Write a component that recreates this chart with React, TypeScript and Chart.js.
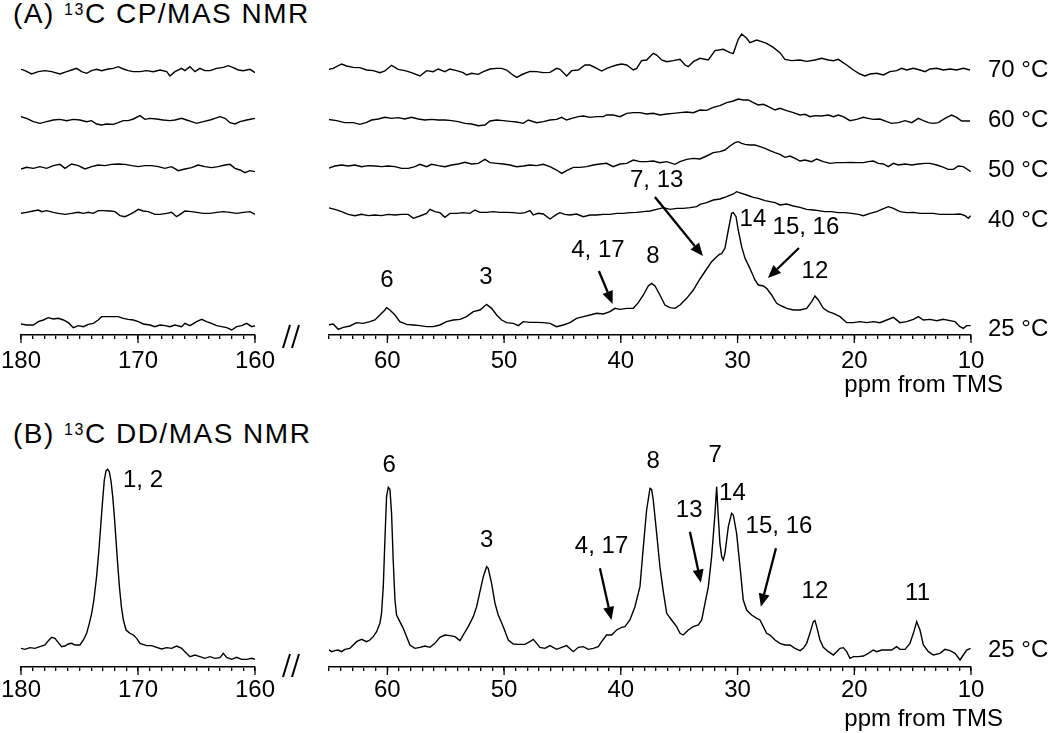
import React, { useEffect, useRef } from 'react';
import { Chart, registerables } from 'chart.js';

Chart.register(...registerables);

type Pt = [number, number];

// ---------- Panel A: 13C CP/MAS NMR, 65-10 ppm (ppm, intensity) ----------
const cp70Right: Pt[] = [[65.07,2],[64.64,5],[63.92,18],[63.5,12],[62.92,8],[62.35,7],[61.78,0],[61.21,-2],[60.64,-8],[60.21,-3],[59.64,14],[59.07,2],[58.5,-2],[57.93,-8],[57.21,-18],[56.64,-2],[56.07,-5],[55.64,3],[55.07,-5],[54.64,3],[54.07,-2],[53.5,-8],[53.21,-15],[52.78,-10],[52.21,-13],[51.78,-5],[51.21,3],[50.64,5],[50.21,5],[49.78,0],[49.36,-12],[48.93,-22],[48.36,-12],[47.78,-4],[47.21,-5],[46.64,-8],[46.07,-7],[45.5,5],[45.21,2],[44.64,-18],[44.21,-2],[43.64,0],[43.07,15],[42.64,15],[42.07,5],[41.64,-3],[41.2,5],[40.79,10],[40.36,15],[39.93,18],[39.5,15],[38.93,0],[38.64,5],[38.22,28],[37.79,30],[37.22,50],[36.93,45],[36.5,30],[36.07,25],[35.5,28],[34.93,32],[34.5,15],[34.22,10],[33.79,25],[33.22,35],[32.51,30],[31.93,58],[31.22,62],[30.65,52],[30.36,50],[29.94,92],[29.65,108],[29.22,95],[28.94,82],[28.36,90],[27.94,85],[27.51,80],[26.94,68],[26.37,52],[25.94,32],[25.37,28],[24.65,30],[24.08,26],[23.37,30],[22.8,35],[22.22,30],[21.79,28],[21.37,32],[20.65,15],[20.08,0],[19.51,-12],[19.08,-18],[18.65,-12],[18.08,-10],[17.51,-15],[16.94,-5],[16.37,-2],[15.94,5],[15.51,0],[14.94,5],[14.37,0],[13.94,-5],[13.51,3],[12.94,5],[12.37,0],[11.8,3],[11.23,0],[10.66,5],[10.08,0]];

const cp60Right: Pt[] = [[65.07,5],[64.35,1],[63.64,-5],[62.92,-5],[62.35,-10],[61.78,-4],[61.35,3],[60.78,6],[60.21,11],[59.64,8],[59.07,10],[58.5,6],[57.93,11],[57.35,6],[56.78,3],[56.21,5],[55.64,3],[55.07,3],[54.5,1],[53.93,-2],[53.35,-7],[52.78,-9],[52.21,-14],[51.64,-12],[51.21,0],[50.64,3],[50.07,1],[49.5,-1],[48.93,-3],[48.36,-7],[47.93,3],[47.21,-5],[46.64,-2],[46.07,3],[45.5,5],[45.07,11],[44.64,3],[44.21,8],[43.64,13],[43.21,15],[42.64,11],[42.07,13],[41.5,13],[41.22,18],[40.65,18],[40.07,13],[39.5,23],[38.93,25],[38.36,25],[37.79,21],[37.22,23],[36.65,18],[36.07,21],[35.5,23],[34.93,25],[34.36,27],[33.79,25],[33.22,33],[32.65,32],[32.08,41],[31.51,46],[30.93,55],[30.36,60],[29.94,66],[29.51,63],[29.08,63],[28.65,55],[28.22,48],[27.79,50],[27.22,41],[26.79,33],[26.37,38],[25.79,31],[25.22,25],[24.65,18],[24.22,20],[23.79,13],[23.37,16],[22.8,15],[22.22,18],[21.79,13],[21.37,18],[20.94,13],[20.37,1],[19.8,5],[19.22,11],[18.8,8],[18.37,5],[17.8,6],[17.22,-2],[16.8,-7],[16.22,-5],[15.65,1],[15.08,-5],[14.51,8],[14.08,1],[13.65,-5],[13.23,-7],[12.8,-5],[12.23,8],[11.66,18],[11.23,11],[10.8,0],[10.08,0]];

const cp50Right: Pt[] = [[65.07,5],[64.5,12],[63.92,15],[63.35,12],[62.78,15],[62.21,10],[61.64,13],[61.07,12],[60.5,10],[59.92,12],[59.35,10],[58.78,5],[58.21,5],[57.64,10],[57.21,17],[56.64,10],[56.21,17],[55.64,13],[55.07,10],[54.5,15],[53.93,18],[53.35,23],[52.78,18],[52.21,20],[51.64,32],[51.21,22],[50.64,20],[50.07,18],[49.5,15],[48.93,10],[48.36,12],[47.79,15],[47.21,13],[46.64,17],[46.07,10],[45.5,0],[45.07,-10],[44.64,-2],[44.07,8],[43.5,8],[42.93,10],[42.36,15],[41.79,18],[41.22,20],[40.65,10],[40.07,18],[39.5,20],[38.93,30],[38.36,25],[37.79,25],[37.22,27],[36.65,22],[36.07,25],[35.36,17],[34.93,25],[34.36,32],[33.79,35],[33.22,33],[32.65,42],[32.08,52],[31.51,55],[31.08,60],[30.65,72],[30.22,82],[29.94,85],[29.65,80],[29.36,77],[28.94,75],[28.51,75],[28.08,70],[27.65,65],[27.22,58],[26.79,52],[26.37,47],[25.94,38],[25.51,42],[25.08,35],[24.65,27],[24.22,30],[23.65,25],[23.22,33],[22.65,25],[22.08,20],[21.51,22],[20.94,22],[20.37,23],[19.8,22],[19.22,22],[18.8,25],[18.37,27],[17.94,20],[17.51,18],[17.08,10],[16.65,20],[16.22,15],[15.65,18],[15.08,15],[14.51,18],[13.94,20],[13.51,20],[12.94,15],[12.51,10],[11.94,2],[11.51,2],[11.08,12],[10.66,10],[10.23,0],[10.03,-5]];

const cp40Right: Pt[] = [[65.07,22],[64.5,17],[63.92,10],[63.35,2],[62.78,-2],[62.21,2],[61.64,-2],[61.07,0],[60.5,-2],[59.92,2],[59.35,0],[58.78,2],[58.21,2],[57.78,-10],[57.21,-3],[56.64,5],[56.35,17],[55.93,10],[55.5,7],[55.07,-7],[54.64,5],[54.07,5],[53.5,7],[52.93,5],[52.5,15],[52.07,8],[51.5,8],[50.93,10],[50.36,8],[49.78,8],[49.21,7],[48.64,5],[48.21,7],[47.79,13],[47.5,0],[47.07,5],[46.64,3],[46.07,-12],[45.5,2],[45.21,7],[44.79,2],[44.36,0],[43.79,3],[43.21,-5],[42.64,0],[42.07,0],[41.5,2],[40.93,2],[40.36,5],[39.79,5],[39.22,7],[38.65,8],[38.07,10],[37.5,12],[36.93,17],[36.36,22],[35.79,17],[35.22,20],[34.65,20],[34.07,22],[33.5,25],[33.22,32],[32.65,37],[32.08,45],[31.51,48],[30.93,55],[30.36,63],[30.08,70],[29.65,65],[29.22,60],[28.65,53],[28.22,50],[27.65,43],[27.22,40],[26.79,37],[26.37,30],[25.79,33],[25.22,27],[24.65,23],[24.08,17],[23.51,15],[23.08,13],[22.51,10],[21.94,10],[21.37,7],[20.8,7],[20.22,5],[19.65,2],[19.22,-2],[18.65,5],[18.08,10],[17.65,17],[17.08,25],[16.65,20],[16.08,10],[15.51,7],[14.94,8],[14.37,5],[13.8,5],[13.23,5],[12.66,2],[12.08,2],[11.51,2],[10.94,3],[10.51,-2],[10.23,-10],[10.03,-2]];

const cp25Right: Pt[] = [[65.07,2],[64.64,5],[64.21,-11],[63.78,-5],[63.21,-1],[62.64,9],[62.07,7],[61.5,12],[61.07,17],[60.64,32],[60.21,47],[60.07,54],[59.78,47],[59.35,32],[58.93,12],[58.35,4],[57.78,2],[57.21,0],[56.64,-3],[56.07,-3],[55.5,2],[54.93,12],[54.35,17],[53.78,19],[53.21,27],[52.64,42],[52.07,47],[51.5,64],[51.07,52],[50.64,32],[50.21,17],[49.78,9],[49.21,7],[48.78,0],[48.36,12],[47.79,10],[47.21,10],[46.64,9],[46.07,7],[45.5,-3],[44.93,2],[44.36,9],[43.79,22],[43.21,27],[42.64,32],[42.07,37],[41.5,35],[40.93,42],[40.5,52],[40.07,49],[39.5,52],[38.93,52],[38.5,69],[38.07,92],[37.65,119],[37.36,127],[37.07,119],[36.65,92],[36.22,62],[35.79,54],[35.36,52],[34.93,62],[34.36,82],[33.79,107],[33.22,140],[32.65,170],[32.22,192],[31.79,207],[31.5,215],[31.36,216],[31.08,232],[30.79,287],[30.51,337],[30.36,339],[30.13,327],[29.94,287],[29.65,237],[29.36,202],[28.94,172],[28.51,137],[28.22,122],[27.79,119],[27.51,112],[27.08,92],[26.65,67],[26.22,59],[25.79,52],[25.22,47],[24.65,47],[24.08,52],[23.65,72],[23.37,89],[23.08,77],[22.65,52],[22.22,42],[21.79,37],[21.22,27],[20.65,9],[20.08,9],[19.51,12],[18.94,9],[18.37,12],[17.8,9],[17.22,17],[16.65,25],[16.08,9],[15.51,12],[14.94,19],[14.51,27],[14.08,17],[13.51,19],[12.94,15],[12.37,19],[11.8,15],[11.37,12],[10.94,-3],[10.66,-8],[10.37,0],[10.03,0]];

// ---------- Panel A: 180-160 ppm ----------
const cp70Left: Pt[] = [[180,2],[179.66,-2],[179.09,-12],[178.52,-5],[177.95,-2],[177.38,-5],[176.67,-12],[176.1,-5],[175.67,0],[175.25,5],[174.82,-5],[174.39,-10],[173.97,-2],[173.54,2],[173.11,-2],[172.54,3],[172.11,5],[171.69,10],[171.26,3],[170.83,-2],[170.4,-5],[169.83,-5],[169.26,-2],[168.69,-5],[168.12,0],[167.55,-5],[167.27,-18],[166.84,-5],[166.27,5],[165.99,-2],[165.56,10],[165.13,-5],[164.71,5],[164.28,-2],[163.85,-2],[163.28,5],[162.71,8],[162.28,13],[161.86,7],[161.43,0],[161,-2],[160.43,2],[160,-8]];

const cp60Left: Pt[] = [[180,13],[179.52,8],[178.95,-2],[178.38,-7],[177.81,-2],[177.24,3],[176.67,5],[176.1,1],[175.53,5],[174.96,3],[174.39,-2],[173.97,1],[173.54,-9],[173.11,-12],[172.68,-9],[172.11,-10],[171.69,-5],[171.26,1],[170.83,1],[170.4,6],[169.83,16],[169.41,5],[168.98,8],[168.41,6],[167.84,3],[167.27,1],[166.84,3],[166.27,8],[165.85,3],[165.42,-2],[164.99,-7],[164.42,-2],[163.85,3],[163.42,8],[162.99,13],[162.56,8],[162.14,-5],[161.71,-9],[161.28,-2],[160.71,3],[160.28,6],[160,8]];

const cp50Left: Pt[] = [[180,3],[179.52,8],[178.95,5],[178.38,10],[177.81,5],[177.24,13],[176.67,17],[176.24,5],[175.67,18],[175.1,13],[174.53,3],[173.97,10],[173.4,15],[172.83,13],[172.25,17],[171.69,18],[171.12,17],[170.55,13],[169.97,10],[169.41,13],[168.84,13],[168.27,10],[167.7,5],[167.13,10],[166.56,-2],[165.99,3],[165.42,7],[164.85,15],[164.28,10],[163.71,7],[163.14,10],[162.56,15],[162.14,17],[161.71,5],[161.28,0],[160.86,-8],[160.43,-2],[160,-5]];

const cp40Left: Pt[] = [[180,5],[179.52,8],[178.95,12],[178.52,15],[178.23,10],[177.81,13],[177.24,8],[176.81,5],[176.24,2],[175.67,5],[175.1,8],[174.67,5],[174.25,8],[173.82,5],[173.4,13],[172.97,13],[172.4,12],[171.97,10],[171.54,-2],[171.12,-5],[170.69,2],[170.26,10],[169.97,17],[169.55,12],[169.12,10],[168.55,2],[168.12,2],[167.55,5],[167.13,8],[166.7,-5],[166.27,5],[165.99,12],[165.42,10],[164.99,8],[164.42,5],[163.85,5],[163.28,8],[162.71,10],[162.14,8],[161.57,5],[161,8],[160.43,10],[160,2]];

const cp25Left: Pt[] = [[180,5],[179.52,2],[178.95,2],[178.52,12],[178.09,17],[177.66,24],[177.24,20],[176.81,22],[176.38,17],[175.95,9],[175.53,-6],[175.1,0],[174.67,-3],[174.25,4],[173.82,7],[173.4,17],[173.11,27],[172.68,27],[172.11,27],[171.69,27],[171.26,22],[170.83,19],[170.4,17],[169.97,12],[169.55,5],[168.98,2],[168.55,-3],[168.12,2],[167.7,0],[167.27,-3],[166.84,2],[166.27,-3],[165.99,7],[165.56,0],[164.99,12],[164.56,19],[164.14,12],[163.71,7],[163.28,0],[162.85,-3],[162.42,-6],[161.99,-13],[161.57,-3],[161.14,0],[160.71,7],[160.28,-3],[160,0]];

// ---------- Panel B: 13C DD/MAS NMR (25 °C) ----------
const ddLeft: Pt[] = [[180,5],[179.66,2],[179.23,7],[178.81,5],[178.38,10],[177.95,15],[177.66,28],[177.38,38],[177.1,35],[176.81,22],[176.53,10],[176.24,12],[175.96,18],[175.67,20],[175.39,15],[174.96,15],[174.67,30],[174.39,50],[174.16,80],[173.96,110],[173.77,150],[173.54,220],[173.34,300],[173.17,380],[173.02,450],[172.88,510],[172.73,538],[172.59,542],[172.45,535],[172.3,505],[172.16,460],[172.02,400],[171.88,330],[171.74,260],[171.59,190],[171.42,130],[171.25,90],[171.02,60],[170.68,50],[170.4,45],[170.11,35],[169.83,20],[169.26,13],[168.84,13],[168.41,8],[167.98,3],[167.55,7],[167.13,5],[166.7,12],[166.27,5],[165.99,-5],[165.56,-20],[165.13,-15],[164.71,-20],[164.28,-25],[163.85,-20],[163.42,-25],[162.99,-23],[162.71,-10],[162.42,-22],[161.99,-28],[161.57,-22],[161.14,-28],[160.71,-28],[160.28,-25],[160,-28]];

const ddRight: Pt[] = [[65.07,2],[64.78,-5],[64.5,-2],[64.21,0],[63.92,-5],[63.64,2],[63.21,5],[62.92,15],[62.64,25],[62.21,32],[61.78,25],[61.5,30],[61.21,40],[60.92,55],[60.64,80],[60.5,110],[60.35,190],[60.21,330],[60.07,460],[59.92,488],[59.78,482],[59.64,410],[59.5,270],[59.35,150],[59.21,105],[58.93,85],[58.64,65],[58.35,40],[58.07,15],[57.64,5],[57.21,8],[56.78,12],[56.35,8],[55.93,20],[55.5,38],[55.07,45],[54.64,43],[54.21,40],[53.78,28],[53.5,45],[53.07,70],[52.64,100],[52.35,130],[52.07,175],[51.78,220],[51.5,250],[51.36,245],[51.07,200],[50.78,140],[50.5,105],[50.07,70],[49.64,30],[49.21,18],[48.78,17],[48.21,17],[47.79,25],[47.5,32],[47.21,20],[46.93,8],[46.5,5],[46.07,13],[45.5,2],[45.07,8],[44.64,13],[44.07,-5],[43.64,8],[43.21,10],[42.79,2],[42.36,5],[41.93,10],[41.64,25],[41.22,45],[40.79,45],[40.36,60],[39.93,68],[39.65,70],[39.22,90],[38.79,130],[38.36,190],[38.07,310],[37.79,420],[37.5,485],[37.36,482],[37.22,450],[36.93,350],[36.65,250],[36.36,175],[36.07,110],[35.65,90],[35.22,70],[34.93,50],[34.65,45],[34.22,60],[33.79,70],[33.36,75],[33.07,90],[32.79,140],[32.5,190],[32.22,280],[31.93,410],[31.79,490],[31.65,400],[31.51,320],[31.36,280],[31.22,270],[31.08,290],[30.79,370],[30.51,410],[30.36,405],[30.08,350],[29.79,250],[29.51,150],[29.22,120],[28.79,105],[28.36,95],[28.08,90],[27.79,70],[27.51,50],[27.22,45],[26.79,30],[26.37,20],[25.94,15],[25.51,15],[25.08,5],[24.65,-2],[24.37,5],[24.08,20],[23.8,50],[23.51,85],[23.37,88],[23.22,70],[22.94,30],[22.65,8],[22.22,-5],[21.79,-15],[21.51,-5],[21.22,5],[20.94,7],[20.65,-5],[20.37,-25],[20.08,-20],[19.65,-20],[19.22,-18],[18.8,-10],[18.37,0],[18.08,-5],[17.65,0],[17.22,0],[16.8,0],[16.37,10],[16.08,2],[15.65,2],[15.23,20],[14.94,50],[14.65,85],[14.37,60],[14.08,15],[13.65,-5],[13.23,-15],[12.66,-10],[12.23,2],[11.8,-2],[11.37,-10],[10.94,-30],[10.66,-15],[10.37,0],[10.03,5]];

// temperatures (stack order bottom -> top)
const cpTemps = ['25 °C', '40 °C', '50 °C', '60 °C', '70 °C'];
const ddTemps = ['25 °C'];

// axis tick label values
const leftAxisLabels = [180, 170, 160];
const rightAxisLabels = [60, 50, 40, 30, 20, 10];

// peak assignments: [text, ppm, height]
const cpPeakLabels: [string, number, number][] = [
  ['6', 60.04, 165], ['3', 51.56, 173], ['4, 17', 41.96, 255], ['8', 37.25, 235],
  ['7, 13', 36.93, 465], ['14', 28.68, 348], ['15, 16', 24.14, 322], ['12', 23.37, 190],
];
const ddLeftPeakLabels: [string, number, number][] = [['1, 2', 169.57, 561]];
const ddPeakLabels: [string, number, number][] = [
  ['6', 59.85, 606], ['3', 51.5, 381], ['4, 17', 41.65, 361], ['8', 37.22, 618],
  ['13', 34.14, 471], ['7', 31.91, 636], ['14', 30.44, 521], ['15, 16', 26.45, 421],
  ['12', 23.37, 226], ['11', 14.58, 221],
];
// arrows: [fromPpm, fromHeight, toPpm, toHeight]
const cpArrows: [number, number, number, number][] = [
  [41.88, 192, 40.7, 93], [37.08, 414, 32.96, 237], [24.74, 261, 27.4, 171],
];
const ddArrows: [number, number, number, number][] = [
  [41.79, 296, 40.8, 141], [34.08, 406, 33.14, 253], [26.71, 356, 28.0, 181],
];

const FONT = '"Liberation Sans", Arial, Helvetica, sans-serif';

interface Spec {
  left: number; top: number; w: number; h: number;
  pad: { left: number; right: number; top: number; bottom: number };
  xMin: number; xMax: number; yMax: number;
  traces: Pt[][]; offsets: number[];
  majors: number[]; tickPad: number;
  labels: [string, number, number][];
  arrows: [number, number, number, number][];
  temps: string[]; tempY: number[];
  unitDy: number | null;
  brk: { t: number; b: number } | null;
}

const cpOffsets = [28, 360, 495, 642, 795];
const ddOffsets = [51];

const specs: Spec[] = [
  {
    left: -20, top: 0, w: 330, h: 400, pad: { left: 41, right: 55, top: 20, bottom: 25 },
    xMin: 160, xMax: 180, yMax: 945,
    traces: [cp25Left, cp40Left, cp50Left, cp60Left, cp70Left], offsets: cpOffsets,
    majors: leftAxisLabels, tickPad: 8, labels: [], arrows: [], temps: [], tempY: [],
    unitDy: null, brk: { t: -10, b: 13 },
  },
  {
    left: 300, top: 0, w: 750, h: 400, pad: { left: 29, right: 79, top: 20, bottom: 25 },
    xMin: 10, xMax: 65, yMax: 945,
    traces: [cp25Right, cp40Right, cp50Right, cp60Right, cp70Right], offsets: cpOffsets,
    majors: rightAxisLabels, tickPad: 8, labels: cpPeakLabels, arrows: cpArrows,
    temps: cpTemps, tempY: [18, 345, 495, 645, 795], unitDy: 50, brk: null,
  },
  {
    left: -20, top: 400, w: 330, h: 333, pad: { left: 41, right: 55, top: 55, bottom: 26 },
    xMin: 160, xMax: 180, yMax: 636,
    traces: [ddLeft], offsets: ddOffsets,
    majors: leftAxisLabels, tickPad: 5, labels: ddLeftPeakLabels, arrows: [], temps: [], tempY: [],
    unitDy: null, brk: { t: -13, b: 10 },
  },
  {
    left: 300, top: 400, w: 750, h: 333, pad: { left: 29, right: 79, top: 55, bottom: 26 },
    xMin: 10, xMax: 65, yMax: 636,
    traces: [ddRight], offsets: ddOffsets,
    majors: rightAxisLabels, tickPad: 5, labels: ddPeakLabels, arrows: ddArrows,
    temps: ddTemps, tempY: [51], unitDy: 52, brk: null,
  },
];

function drawArrow(ctx: CanvasRenderingContext2D, x1: number, y1: number, x2: number, y2: number) {
  const a = Math.atan2(y2 - y1, x2 - x1);
  const hl = 13, hw = 5.5;
  const bx = x2 - hl * Math.cos(a), by = y2 - hl * Math.sin(a);
  ctx.lineWidth = 2.3;
  ctx.beginPath(); ctx.moveTo(x1, y1); ctx.lineTo(bx, by); ctx.stroke();
  ctx.beginPath();
  ctx.moveTo(x2, y2);
  ctx.lineTo(bx + hw * Math.sin(a), by - hw * Math.cos(a));
  ctx.lineTo(bx - hw * Math.sin(a), by + hw * Math.cos(a));
  ctx.closePath(); ctx.fill();
}

function Spectrum({ spec }: { spec: Spec }) {
  const ref = useRef<HTMLCanvasElement>(null);
  useEffect(() => {
    const canvas = ref.current;
    if (!canvas) return;
    const tickVals: number[] = [];
    for (let v = spec.xMin; v <= spec.xMax; v++) tickVals.push(v);
    const annot = {
      id: 'annot',
      afterDraw(chart: any) {
        const ctx: CanvasRenderingContext2D = chart.ctx;
        const xs = chart.scales.x, ys = chart.scales.y;
        const area = chart.chartArea;
        const axisY = area.bottom;
        ctx.save();
        ctx.strokeStyle = '#000'; ctx.fillStyle = '#000';
        ctx.lineWidth = 1.3;
        for (const v of spec.majors) {
          const px = xs.getPixelForValue(v);
          ctx.beginPath(); ctx.moveTo(px, axisY); ctx.lineTo(px, axisY + 8); ctx.stroke();
        }
        ctx.font = `24px ${FONT}`;
        ctx.textAlign = 'center'; ctx.textBaseline = 'middle';
        for (const [t, p, u] of spec.labels) ctx.fillText(t, xs.getPixelForValue(p), ys.getPixelForValue(u));
        for (const [p1, u1, p2, u2] of spec.arrows) {
          drawArrow(ctx, xs.getPixelForValue(p1), ys.getPixelForValue(u1), xs.getPixelForValue(p2), ys.getPixelForValue(u2));
        }
        ctx.textAlign = 'left';
        spec.temps.forEach((t, i) => ctx.fillText(t, area.right + 17, ys.getPixelForValue(spec.tempY[i])));
        if (spec.unitDy !== null) {
          ctx.textAlign = 'right';
          ctx.fillText('ppm from TMS', area.right + 32, axisY + spec.unitDy);
        }
        if (spec.brk) {
          ctx.lineWidth = 2;
          const r = area.right;
          ctx.beginPath();
          ctx.moveTo(r + 28, axisY + spec.brk.b); ctx.lineTo(r + 35, axisY + spec.brk.t);
          ctx.moveTo(r + 37, axisY + spec.brk.b); ctx.lineTo(r + 44, axisY + spec.brk.t);
          ctx.stroke();
        }
        ctx.restore();
      },
    };
    const chart = new Chart(canvas, {
      type: 'line',
      data: {
        datasets: spec.traces.map((tr, i) => ({
          data: tr.map(([p, v]) => ({ x: p, y: v + spec.offsets[i] })),
          borderColor: '#000',
          borderWidth: 1.4,
          pointRadius: 0,
          tension: 0,
          fill: false,
        })),
      },
      options: {
        responsive: false,
        animation: false,
        devicePixelRatio: 1,
        events: [],
        layout: { padding: spec.pad },
        plugins: { legend: { display: false }, tooltip: { enabled: false }, title: { display: false } },
        scales: {
          x: {
            type: 'linear',
            min: spec.xMin,
            max: spec.xMax,
            reverse: true,
            position: 'bottom',
            afterBuildTicks: (scale: any) => { scale.ticks = tickVals.map((v) => ({ value: v })); },
            afterFit: (scale: any) => { scale.height = 40; },
            border: { display: true, color: '#000', width: 1.5 },
            grid: {
              display: true, drawOnChartArea: false, drawTicks: true,
              tickLength: 4, tickColor: '#000', tickWidth: 1.3, color: '#000', lineWidth: 1.3,
            },
            ticks: {
              autoSkip: false, maxRotation: 0, minRotation: 0,
              padding: spec.tickPad, color: '#000',
              font: { family: FONT, size: 24 },
              callback: (v: any) => (spec.majors.includes(Number(v)) ? String(v) : ''),
            },
          },
          y: { type: 'linear', display: false, min: 0, max: spec.yMax },
        },
      },
      plugins: [annot],
    } as any);
    return () => chart.destroy();
  }, [spec]);
  return (
    <canvas
      ref={ref}
      width={spec.w}
      height={spec.h}
      style={{ position: 'absolute', left: spec.left, top: spec.top, width: spec.w, height: spec.h }}
    />
  );
}

export default function App() {
  const titleStyle: React.CSSProperties = {
    position: 'absolute', left: 13, fontFamily: FONT, fontSize: 28, lineHeight: '32px',
    letterSpacing: 1.5, whiteSpace: 'nowrap', color: '#000',
  };
  const supStyle: React.CSSProperties = { fontSize: 16, position: 'relative', top: -8 };
  return (
    <div style={{ position: 'absolute', left: 0, top: 0, width: 1050, height: 733, background: '#fff', overflow: 'hidden' }}>
      <div style={{ ...titleStyle, top: -2 }}>
        (A) <span style={supStyle}>13</span>C CP/MAS NMR
      </div>
      <div style={{ ...titleStyle, top: 418 }}>
        (B) <span style={supStyle}>13</span>C DD/MAS NMR
      </div>
      {specs.map((s, i) => (
        <Spectrum key={i} spec={s} />
      ))}
    </div>
  );
}
